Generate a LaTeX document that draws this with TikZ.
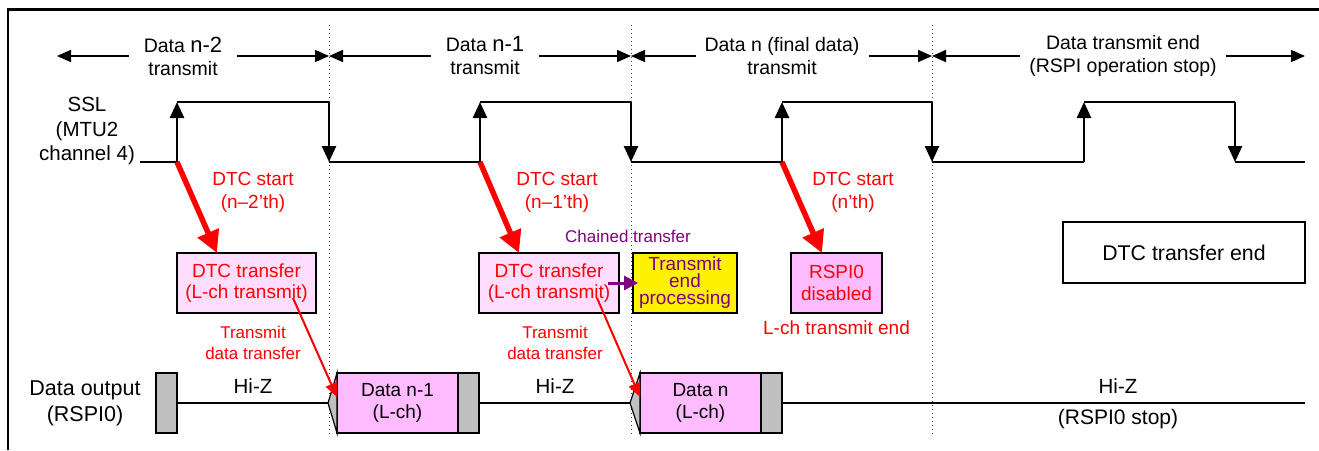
\documentclass[tikz,border=0pt]{standalone}
\usepackage{fontspec}
\setmainfont{Liberation Sans}
\usetikzlibrary{arrows.meta}
\definecolor{lpink}{HTML}{FFDDFF}
\definecolor{dpink}{HTML}{FFBBFF}
\definecolor{gry}{HTML}{C0C0C0}
\definecolor{purp}{HTML}{800080}
\begin{document}
\begin{tikzpicture}[x=1pt,y=-1pt,
  every node/.style={inner sep=0pt, outer sep=0pt},
  toplbl/.style={align=center, font=\fontsize{19.5}{23}\selectfont},
  lbl/.style={align=center, font=\fontsize{19.5}{23}\selectfont},
  redlbl/.style={align=center, text=red, font=\fontsize{19}{23}\selectfont},
  smallred/.style={align=center, text=red, font=\fontsize{17}{21}\selectfont},
  dtcbox/.style={draw=black, line width=1.2pt, fill=lpink, text=red, align=center,
     font=\fontsize{19}{21.5}\selectfont, minimum height=60pt},
  yelbox/.style={draw=black, line width=1.2pt, fill=yellow, text=purp, align=center,
     font=\fontsize{19}{17}\selectfont, minimum height=60pt},
  rspibox/.style={draw=black, line width=1.2pt, fill=dpink, text=red, align=center,
     font=\fontsize{19}{21.5}\selectfont, minimum height=60pt},
  endbox/.style={draw=black, line width=1.2pt, fill=white, align=center,
     font=\fontsize{21.3}{23}\selectfont, minimum height=61pt, minimum width=242pt},
  databox/.style={draw=black, line width=1.2pt, fill=dpink, align=center,
     font=\fontsize{19}{22}\selectfont, minimum height=60pt, minimum width=121pt},
  graybox/.style={draw=black, line width=1.2pt, fill=gry, minimum height=60pt, minimum width=21pt},
  hizlbl/.style={font=\fontsize{20.5}{22}\selectfont},
  sig/.style={line width=2.5pt},
  sigarr/.style={line width=2.5pt, -{Triangle[length=16pt,width=14pt]}},
  dimarr/.style={line width=1.5pt, -{Triangle[length=14pt,width=12pt]}},
  bigred/.style={draw=red, line width=5.5pt, -{Triangle[length=22pt,width=22pt]}},
  thinred/.style={draw=red, line width=2pt, -{Triangle[length=14pt,width=12pt]}},
  purparr/.style={draw=purp, line width=3pt, -{Triangle[length=14pt,width=14pt]}},
  dotline/.style={line width=1pt, dash pattern=on 1pt off 3pt, black!75},
  hiz/.style={line width=1.5pt}
]
\useasboundingbox (0,0) rectangle (1319,450);
% frame
\draw[line width=2.5pt] (8,450) -- (8,9.5) -- (1319,9.5);

% dotted separators
\foreach \x/\n in {329/a,631/b,932/c}{
  \coordinate (dt\n) at (\x,25);
  \coordinate (db\n) at (\x,435);
  \draw[dotline] (dt\n) -- (db\n);
}

% top labels and dimension arrows
\node[toplbl, inner xsep=15pt] (l1) at (183,56) {Data {\fontsize{22}{23}\selectfont n-2}\\transmit};
\node[toplbl, inner xsep=15pt] (l2) at (485,56) {Data {\fontsize{22}{23}\selectfont n-1}\\transmit};
\node[toplbl, inner xsep=9pt] (l3) at (782,56) {Data n (final data)\\transmit};
\node[toplbl, inner xsep=9pt] (l4) at (1123,56) {Data transmit end\\(RSPI operation stop)};
\coordinate (e0) at (57,56);
\coordinate (m1) at (329,56);
\coordinate (m2) at (631,56);
\coordinate (m3) at (932,56);
\coordinate (e4) at (1305,56);
\draw[dimarr] (l1.west) -- (e0);
\draw[dimarr] (l1.east) -- (m1);
\draw[dimarr] (l2.west) -- (m1);
\draw[dimarr] (l2.east) -- (m2);
\draw[dimarr] (l3.west) -- (m2);
\draw[dimarr] (l3.east) -- (m3);
\draw[dimarr] (l4.west) -- (m3);
\draw[dimarr] (l4.east) -- (e4);

% SSL label
\node[lbl, font=\fontsize{20.5}{24.5}\selectfont] (ssl) at (87,131) {SSL\\(MTU2\\channel 4)};

% SSL waveform
\coordinate (s0) at (140,162);
\coordinate (send) at (1305,162);
\foreach \r/\f/\i in {177/329/1, 480/631/2, 782/932/3, 1084/1235/4}{
  \coordinate (rl\i) at (\r,162);
  \coordinate (rh\i) at (\r,102);
  \coordinate (fh\i) at (\f,102);
  \coordinate (fl\i) at (\f,162);
  \draw[sigarr] (rl\i) -- (rh\i);
  \draw[sig] (rh\i) -- (fh\i);
  \draw[sigarr] (fh\i) -- (fl\i);
}
\draw[sig] (s0) -- (rl1);
\draw[sig] (fl1) -- (rl2);
\draw[sig] (fl2) -- (rl3);
\draw[sig] (fl3) -- (rl4);
\draw[sig] (fl4) -- (send);

% DTC start labels
\node[redlbl] (ds1) at (253,192) {DTC start\\(n--2'th)};
\node[redlbl] (ds2) at (557,192) {DTC start\\(n--1'th)};
\node[redlbl] (ds3) at (853,192) {DTC start\\(n'th)};

% boxes
\node[dtcbox, minimum width=139pt] (dtc1) at (246.5,283) {DTC transfer\\(L-ch transmit)};
\node[dtcbox, minimum width=140pt] (dtc2) at (549,283) {DTC transfer\\(L-ch transmit)};
\node[yelbox, minimum width=104pt] (tep) at (685,283) {Transmit\\end\\processing};
\node[rspibox, minimum width=91pt] (rspi) at (836.5,283) {RSPI0\\disabled};
\node[endbox] (dend) at (1184,252.5) {DTC transfer end};

% thick red start arrows
\draw[bigred] (rl1) -- ([xshift=40pt]dtc1.north west);
\draw[bigred] (rl2) -- ([xshift=40pt]dtc2.north west);
\draw[bigred] (rl3) -- ([xshift=31pt]rspi.north west);

% chained transfer
\node[text=purp, font=\fontsize{17}{19}\selectfont] (chain) at (628,236) {Chained transfer};
\coordinate (cs) at (608,283);
\draw[purparr] (cs) -- ([xshift=5pt]tep.west);

\node[redlbl] (lend) at (836.5,328) {L-ch transmit end};

% transmit data transfer labels
\node[smallred] (tdt1) at (253,343) {Transmit\\data transfer};
\node[smallred] (tdt2) at (555,343) {Transmit\\data transfer};

% data output row
\node[lbl, font=\fontsize{21.5}{26}\selectfont] (dout) at (85,403) {Data output\\(RSPI0)};
\node[graybox] (g0) at (166.5,403) {};
\node[databox] (d1) at (397.5,403) {Data n-1\\(L-ch)};
\node[graybox] (g1) at (468.5,403) {};
\node[databox] (d2) at (700.5,403) {Data n\\(L-ch)};
\node[graybox] (g2) at (771.5,403) {};
\coordinate (p1) at (328,403);
\coordinate (p2) at (630,403);
\coordinate (hend) at (1305,403);
\filldraw[fill=gry, draw=black, line width=1.2pt] (p1) -- (d1.north west) -- (d1.south west) -- cycle;
\filldraw[fill=gry, draw=black, line width=1.2pt] (p2) -- (d2.north west) -- (d2.south west) -- cycle;
\draw[hiz] (g0.east) -- (p1);
\draw[hiz] (g1.east) -- (p2);
\draw[hiz] (g2.east) -- (hend);
\node[hizlbl] (hz1) at (253,386) {Hi-Z};
\node[hizlbl] (hz2) at (555,386) {Hi-Z};
\node[hizlbl] (hz3) at (1118,386) {Hi-Z};
\node[font=\fontsize{21}{22}\selectfont] (rstop) at (1118,419) {(RSPI0 stop)};

% thin red data transfer arrows
\coordinate (ts1) at (293,298);
\coordinate (ts2) at (597,298);
\draw[thinred] (ts1) -- ([yshift=6pt]d1.west);
\draw[thinred] (ts2) -- ([yshift=6pt]d2.west);
\end{tikzpicture}
\end{document}
